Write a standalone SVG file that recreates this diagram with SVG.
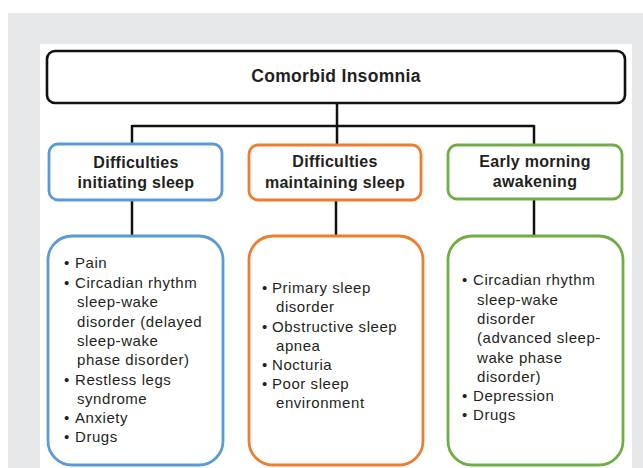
<svg xmlns="http://www.w3.org/2000/svg" width="643" height="468" viewBox="0 0 643 468">
<style>
.t{font-family:"Liberation Sans",Arial,sans-serif;fill:#231f20}
.h{font-size:16px;font-weight:bold;text-anchor:middle;letter-spacing:0.3px}
.b{font-size:15px;letter-spacing:0.55px}
.ln{stroke:#111;stroke-width:2.5;fill:none}
.box{fill:#fff;stroke-width:2.8}
.blue{stroke:#5b9bd5}.orange{stroke:#ed7d31}.green{stroke:#70ad47}
</style>
<rect x="8" y="13" width="635" height="455" fill="#e6e7e8"/>
<rect x="40" y="44" width="592" height="424" fill="#fff"/>
<g id="connectors">
<line class="ln" x1="337" y1="104" x2="337" y2="126"/>
<line class="ln" x1="132" y1="126" x2="534" y2="126"/>
<line class="ln" x1="132" y1="125" x2="132" y2="144"/>
<line class="ln" x1="337" y1="125" x2="337" y2="144"/>
<line class="ln" x1="534" y1="125" x2="534" y2="145"/>
<line class="ln" x1="132" y1="201" x2="132" y2="236"/>
<line class="ln" x1="336" y1="200" x2="336" y2="236"/>
<line class="ln" x1="534" y1="199" x2="534" y2="236"/>
</g>
<g id="root">
<rect x="47" y="51" width="578" height="52" rx="8" fill="#fff" stroke="#111" stroke-width="2.6"/>
<text class="t" x="336" y="82" font-size="17.5" font-weight="bold" text-anchor="middle" letter-spacing="0.3">Comorbid Insomnia</text>
</g>
<g id="h1">
<rect class="box blue" x="49" y="144" width="173" height="56" rx="9"/>
<text class="t h" x="136" y="168">Difficulties</text>
<text class="t h" x="136" y="188">initiating sleep</text>
</g>
<g id="h2">
<rect class="box orange" x="249" y="145" width="172" height="55" rx="9"/>
<text class="t h" x="335" y="167">Difficulties</text>
<text class="t h" x="335" y="188">maintaining sleep</text>
</g>
<g id="h3">
<rect class="box green" x="448" y="145" width="174" height="54" rx="9"/>
<text class="t h" x="535" y="167">Early morning</text>
<text class="t h" x="535" y="187">awakening</text>
</g>
<g id="b1">
<rect class="box blue" x="48" y="236" width="175" height="229" rx="24"/>
<g class="t b">
<text x="64" y="268">•</text><text x="75" y="268">Pain</text>
<text x="64" y="288">•</text><text x="75" y="288">Circadian rhythm</text>
<text x="77" y="307">sleep-wake</text>
<text x="77" y="327">disorder (delayed</text>
<text x="77" y="346">sleep-wake</text>
<text x="77" y="365">phase disorder)</text>
<text x="64" y="385">•</text><text x="75" y="385">Restless legs</text>
<text x="77" y="404">syndrome</text>
<text x="64" y="423">•</text><text x="75" y="423">Anxiety</text>
<text x="64" y="442">•</text><text x="75" y="442">Drugs</text>
</g>
</g>
<g id="b2">
<rect class="box orange" x="249" y="236" width="174" height="229" rx="24"/>
<g class="t b">
<text x="262" y="293">•</text><text x="272" y="293">Primary sleep</text>
<text x="276" y="312">disorder</text>
<text x="262" y="332">•</text><text x="272" y="332">Obstructive sleep</text>
<text x="276" y="351">apnea</text>
<text x="262" y="370">•</text><text x="272" y="370">Nocturia</text>
<text x="262" y="389">•</text><text x="272" y="389">Poor sleep</text>
<text x="276" y="408">environment</text>
</g>
</g>
<g id="b3">
<rect class="box green" x="448" y="236" width="175" height="229" rx="24"/>
<g class="t b">
<text x="462" y="285">•</text><text x="473" y="285">Circadian rhythm</text>
<text x="477" y="305">sleep-wake</text>
<text x="477" y="324">disorder</text>
<text x="477" y="343">(advanced sleep-</text>
<text x="477" y="363">wake phase</text>
<text x="477" y="382">disorder)</text>
<text x="462" y="401">•</text><text x="473" y="401">Depression</text>
<text x="462" y="420">•</text><text x="473" y="420">Drugs</text>
</g>
</g>
</svg>
